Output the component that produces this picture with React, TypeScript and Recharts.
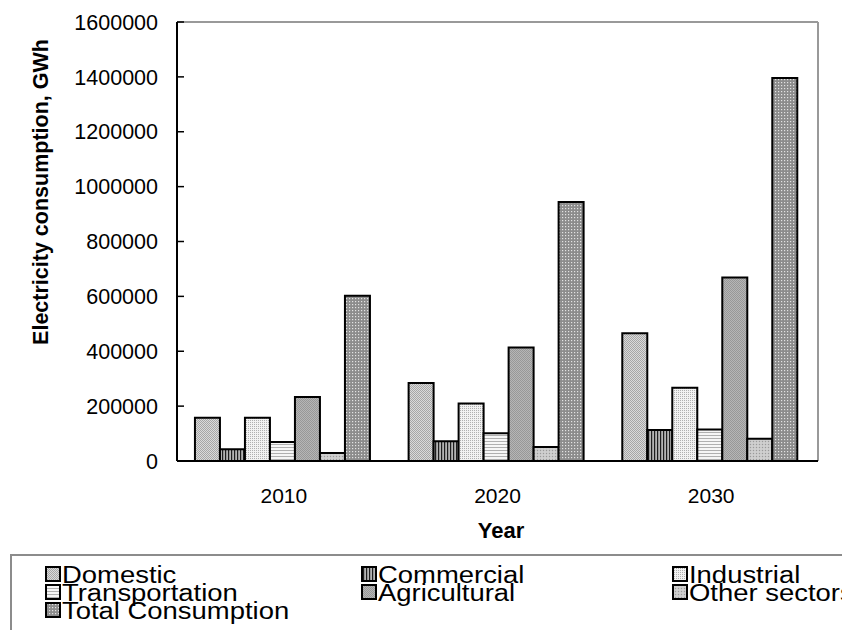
import { Bar, BarChart, CartesianGrid, XAxis, YAxis } from "recharts"

const years = ["2010", "2020", "2030"]
const domestic = [158000, 284000, 466000]
const commercial = [43000, 72000, 113000]
const industrial = [158000, 210000, 267000]
const transportation = [69000, 101000, 115000]
const agricultural = [233000, 414000, 669000]
const otherSectors = [29000, 51000, 81000]
const totalConsumption = [602000, 944000, 1396000]
const yTicks = [0, 200000, 400000, 600000, 800000, 1000000, 1200000, 1400000, 1600000]

const series = [
  { key: "domestic", name: "Domestic", values: domestic },
  { key: "commercial", name: "Commercial", values: commercial },
  { key: "industrial", name: "Industrial", values: industrial },
  { key: "transportation", name: "Transportation", values: transportation },
  { key: "agricultural", name: "Agricultural", values: agricultural },
  { key: "other", name: "Other sectors", values: otherSectors },
  { key: "total", name: "Total Consumption", values: totalConsumption },
]

const data = years.map((year, i) => {
  const row: Record<string, string | number> = { year }
  series.forEach((s) => (row[s.key] = s.values[i]))
  return row
})

const FONT = "'Liberation Sans', Arial, sans-serif"
const W = 842
const H = 630
const MARGIN = { top: 22, right: 24, bottom: 109, left: 0 }

// grey fill textures, roughly like the old Excel pattern fills
function Patterns({ prefix }: { prefix: string }) {
  return (
    <defs>
      <pattern id={`${prefix}-domestic`} width="2" height="2" patternUnits="userSpaceOnUse">
        <rect width="2" height="2" fill="#dadada" />
        <rect width="1" height="1" fill="#a6a6a6" />
        <rect x="1" y="1" width="1" height="1" fill="#a6a6a6" />
      </pattern>
      <pattern id={`${prefix}-commercial`} width="3" height="3" patternUnits="userSpaceOnUse">
        <rect width="3" height="3" fill="#b4b4b4" />
        <rect width="1.2" height="3" fill="#1e1e1e" />
      </pattern>
      <pattern id={`${prefix}-industrial`} width="2" height="2" patternUnits="userSpaceOnUse">
        <rect width="2" height="2" fill="#f2f2f2" />
        <rect width="1" height="1" fill="#b0b0b0" />
      </pattern>
      <pattern id={`${prefix}-transportation`} width="3" height="3" patternUnits="userSpaceOnUse">
        <rect width="3" height="3" fill="#f6f6f6" />
        <rect width="3" height="1" fill="#b0b0b0" />
      </pattern>
      <pattern id={`${prefix}-agricultural`} width="2" height="2" patternUnits="userSpaceOnUse">
        <rect width="2" height="2" fill="#b6b6b6" />
        <rect width="1" height="1" fill="#989898" />
        <rect x="1" y="1" width="1" height="1" fill="#989898" />
      </pattern>
      <pattern id={`${prefix}-other`} width="3" height="3" patternUnits="userSpaceOnUse">
        <rect width="3" height="3" fill="#c8c8c8" />
        <rect width="1" height="1" fill="#9a9a9a" />
        <rect x="1.5" y="1.5" width="1" height="1" fill="#e4e4e4" />
      </pattern>
      <pattern id={`${prefix}-total`} width="3" height="3" patternUnits="userSpaceOnUse">
        <rect width="3" height="3" fill="#8c8c8c" />
        <rect x="1" y="1" width="1.2" height="1.2" fill="#e2e2e2" />
      </pattern>
    </defs>
  )
}

const legendCols = [46, 362, 673]
const legendRows = [574, 592, 610]

function ChartLegend() {
  return (
    <svg width={W} height={H} style={{ position: "absolute", left: 0, top: 0, pointerEvents: "none" }}>
      <Patterns prefix="lg" />
      <rect x={11} y={555} width={900} height={120} fill="none" stroke="#8c8c8c" strokeWidth={2} />
      {series.map((s, i) => {
        const x = legendCols[i % 3]
        const y = legendRows[Math.floor(i / 3)]
        return (
          <g key={s.key}>
            <rect x={x} y={y - 7} width={14} height={14} fill={`url(#lg-${s.key})`} stroke="#000" strokeWidth={2} />
            <text
              x={0}
              y={y}
              dy="0.36em"
              fontSize={24.5}
              fontFamily={FONT}
              fill="#000"
              transform={`translate(${x + 16} 0) scale(1.12 1)`}
            >
              {s.name}
            </text>
          </g>
        )
      })}
    </svg>
  )
}

export default function App() {
  return (
    <div style={{ position: "fixed", left: 0, top: 0, width: W, height: H, overflow: "hidden", background: "#fff" }}>
      <BarChart width={W} height={H} data={data} margin={MARGIN} barCategoryGap="8.4%" barGap={0}>
        <Patterns prefix="bar" />
        {/* grey frame on top and right of the plot */}
        <CartesianGrid
          stroke="#999"
          strokeWidth={2}
          horizontalPoints={[MARGIN.top]}
          verticalPoints={[W - MARGIN.right]}
        />
        <XAxis
          dataKey="year"
          height={60}
          tickLine={false}
          tickSize={0}
          tickMargin={27}
          axisLine={{ stroke: "#000", strokeWidth: 2 }}
          tick={{ fontSize: 21, fill: "#000", fontFamily: FONT }}
          label={{
            content: () => (
              <text x={501} y={530} dy="0.36em" textAnchor="middle" fontSize={22} fontWeight="bold" fontFamily={FONT} fill="#000">
                Year
              </text>
            ),
          }}
        />
        <YAxis
          width={177}
          domain={[0, 1600000]}
          ticks={yTicks}
          interval={0}
          tickSize={-7}
          tickMargin={26}
          tickLine={{ stroke: "#000", strokeWidth: 1.5 }}
          axisLine={{ stroke: "#000", strokeWidth: 2 }}
          tick={{ fontSize: 21.5, fill: "#000", fontFamily: FONT }}
          label={{
            content: () => (
              <text
                x={40}
                y={192}
                transform="rotate(-90 40 192)"
                dy="0.36em"
                textAnchor="middle"
                fontSize={21.5}
                fontWeight="bold"
                fontFamily={FONT}
                fill="#000"
              >
                Electricity consumption, GWh
              </text>
            ),
          }}
        />
        {series.map((s) => (
          <Bar
            key={s.key}
            dataKey={s.key}
            name={s.name}
            fill={`url(#bar-${s.key})`}
            stroke="#000"
            strokeWidth={2}
            isAnimationActive={false}
          />
        ))}
      </BarChart>
      <ChartLegend />
    </div>
  )
}
